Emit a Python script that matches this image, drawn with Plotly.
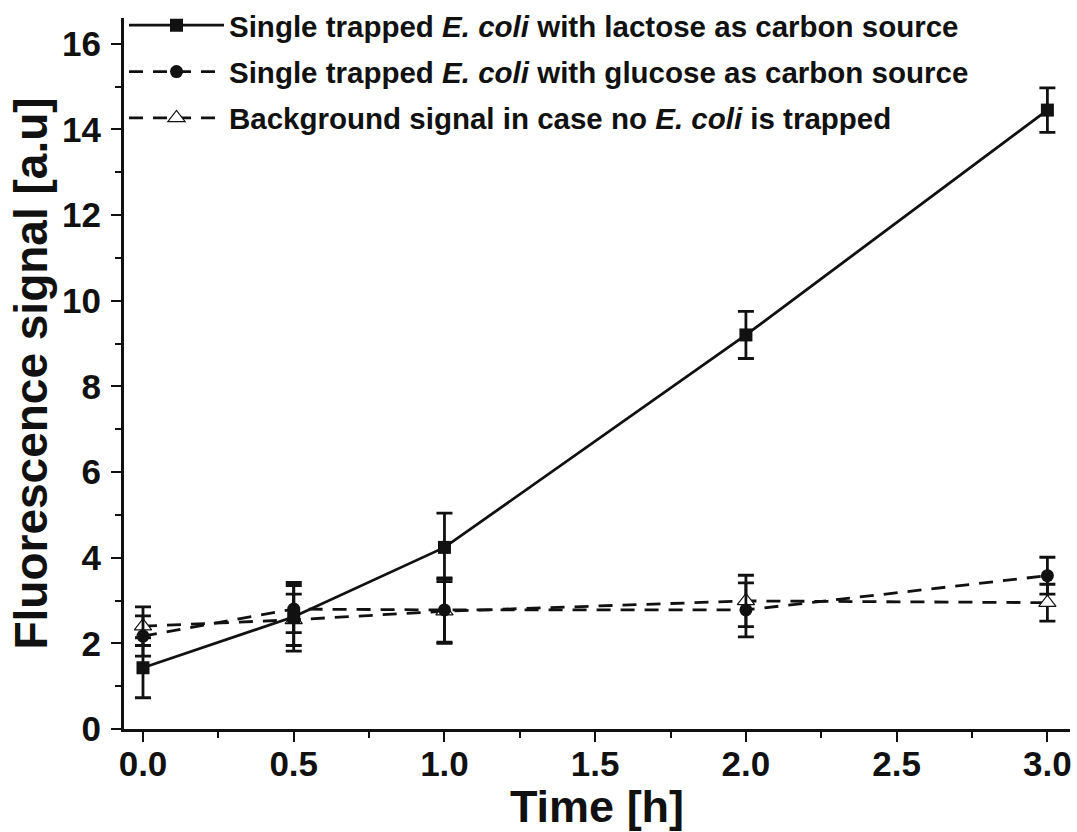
import plotly.graph_objects as go

time_h = [0.0, 0.5, 1.0, 2.0, 3.0]

lactose = [1.43, 2.62, 4.24, 9.2, 14.45]
lactose_err = [0.7, 0.8, 0.8, 0.55, 0.52]

glucose = [2.17, 2.8, 2.78, 2.78, 3.58]
glucose_err = [0.47, 0.55, 0.75, 0.63, 0.43]

background = [2.4, 2.55, 2.75, 2.99, 2.95]
background_err = [0.45, 0.6, 0.75, 0.6, 0.43]

x_ticks = [0, 0.5, 1, 1.5, 2, 2.5, 3]
x_ticklabels = ["0.0", "0.5", "1.0", "1.5", "2.0", "2.5", "3.0"]
y_ticks = [0, 2, 4, 6, 8, 10, 12, 14, 16]

names = [
    "Single trapped <i>E. coli</i> with lactose as carbon source",
    "Single trapped <i>E. coli</i> with glucose as carbon source",
    "Background signal in case no <i>E. coli</i> is trapped",
]

FONT = "Liberation Sans, Arial, Helvetica, sans-serif"
INK = "#111111"

fig = go.Figure()

fig.add_trace(go.Scatter(
    x=time_h, y=background, name=names[2], legendgroup="c", legendrank=3,
    mode="lines+markers",
    line=dict(color=INK, width=2.8, dash="14px,10px"),
    marker=dict(symbol="triangle-up", size=15, color="white", line=dict(color=INK, width=1.2)),
    error_y=dict(type="data", array=background_err, color=INK, thickness=2.8, width=8),
))
fig.add_trace(go.Scatter(
    x=time_h, y=glucose, name=names[1], legendgroup="b", legendrank=2,
    mode="lines+markers",
    line=dict(color=INK, width=2.8, dash="14px,10px"),
    marker=dict(symbol="circle", size=13, color=INK),
    error_y=dict(type="data", array=glucose_err, color=INK, thickness=2.8, width=8),
))
fig.add_trace(go.Scatter(
    x=time_h, y=lactose, name=names[0], legendgroup="a", legendrank=1,
    mode="lines+markers",
    line=dict(color=INK, width=2.8),
    marker=dict(symbol="square", size=13, color=INK),
    error_y=dict(type="data", array=lactose_err, color=INK, thickness=2.8, width=8),
))

fig.update_layout(
    width=1077, height=832,
    margin=dict(l=124, r=7, t=18, b=103, autoexpand=False),
    paper_bgcolor="white", plot_bgcolor="white",
    showlegend=True,
    legend=dict(
        x=0.0, y=1.026, xanchor="left", yanchor="top",
        bgcolor="rgba(0,0,0,0)",
        font=dict(family=FONT, size=29.5, color=INK, weight=700),
        tracegroupgap=5, itemwidth=95,
    ),
    font=dict(family=FONT, color=INK),
)

fig.update_xaxes(
    range=[-0.063, 3.075],
    tickmode="array", tickvals=x_ticks, ticktext=x_ticklabels,
    ticks="outside", ticklen=10, tickwidth=2, tickcolor=INK,
    minor=dict(ticks="outside", ticklen=6, tickwidth=2, tickcolor=INK, dtick=0.25, showgrid=False),
    showline=True, linecolor=INK, linewidth=3,
    showgrid=False, zeroline=False,
    tickfont=dict(family=FONT, size=35, weight=700, color=INK),
    ticklabelstandoff=-8,
    title=dict(text="Time [h]", font=dict(family=FONT, size=45, weight=700, color=INK), standoff=4),
)
fig.update_yaxes(
    range=[0, 16.6],
    tickmode="array", tickvals=y_ticks,
    ticks="outside", ticklen=10, tickwidth=2, tickcolor=INK,
    minor=dict(ticks="outside", ticklen=6, tickwidth=2, tickcolor=INK, dtick=1, showgrid=False),
    showline=True, linecolor=INK, linewidth=3,
    showgrid=False, zeroline=False,
    tickfont=dict(family=FONT, size=35, weight=700, color=INK),
    ticklabelstandoff=3,
    title=dict(text="Fluorescence signal [a.u]", font=dict(family=FONT, size=46, weight=700, color=INK), standoff=0),
)

fig.write_html("out.html")
